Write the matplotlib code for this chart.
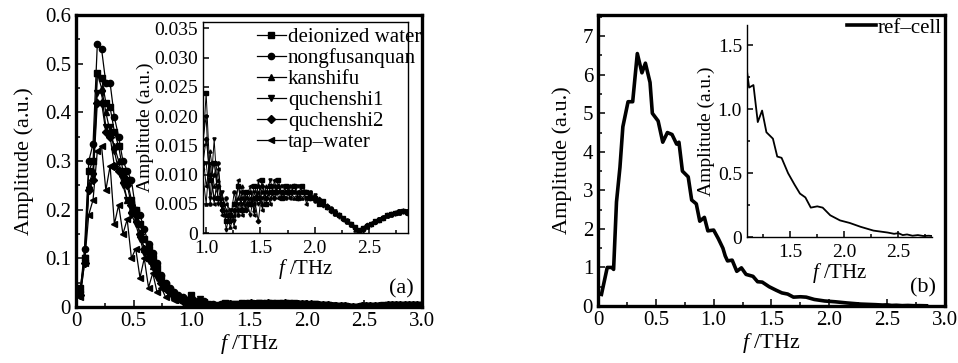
import numpy as np
import matplotlib
matplotlib.use("Agg")
import matplotlib.pyplot as plt
from matplotlib.ticker import MultipleLocator, FuncFormatter

plt.rcParams['font.family'] = ['Liberation Serif', 'DejaVu Serif']
plt.rcParams['mathtext.fontset'] = 'custom'
plt.rcParams['mathtext.it'] = 'Liberation Serif:italic'
plt.rcParams['mathtext.rm'] = 'Liberation Serif'

# frequency bins of the spectra, 0.037 THz apart (0.037 ... 3.0 THz)
freq = np.arange(1, 82) * 0.037

# amplitude below 1 THz (26 bins)
head_deionized = [0.04, 0.10, 0.28, 0.30, 0.48, 0.47, 0.42, 0.41, 0.36, 0.33, 0.28, 0.26, 0.22,
                  0.20, 0.17, 0.14, 0.12, 0.10, 0.08, 0.06, 0.045, 0.035, 0.025, 0.02, 0.016, 0.012]
head_nongfu = [0.03, 0.12, 0.30, 0.335, 0.54, 0.53, 0.46, 0.46, 0.39, 0.35, 0.30, 0.28, 0.26,
               0.20, 0.19, 0.16, 0.13, 0.11, 0.09, 0.065, 0.05, 0.04, 0.03, 0.025, 0.02, 0.015]
head_kanshifu = [0.03, 0.10, 0.25, 0.28, 0.48, 0.45, 0.40, 0.36, 0.33, 0.30, 0.26, 0.22, 0.20,
                 0.18, 0.15, 0.12, 0.10, 0.085, 0.07, 0.055, 0.04, 0.03, 0.022, 0.018, 0.014, 0.011]
head_q1 = [0.03, 0.10, 0.24, 0.27, 0.44, 0.44, 0.37, 0.37, 0.32, 0.28, 0.25, 0.22, 0.19,
           0.17, 0.14, 0.11, 0.095, 0.08, 0.06, 0.05, 0.035, 0.03, 0.02, 0.016, 0.013, 0.011]
head_q2 = [0.025, 0.09, 0.24, 0.26, 0.42, 0.42, 0.36, 0.35, 0.29, 0.28, 0.27, 0.25, 0.21,
           0.19, 0.15, 0.12, 0.11, 0.09, 0.07, 0.05, 0.04, 0.03, 0.022, 0.017, 0.013, 0.011]
head_tap = [0.02, 0.09, 0.19, 0.22, 0.32, 0.33, 0.24, 0.29, 0.17, 0.21, 0.15, 0.18, 0.10,
            0.12, 0.06, 0.10, 0.04, 0.07, 0.03, 0.04, 0.02, 0.03, 0.015, 0.02, 0.01, 0.015]

# amplitude from 1 THz up (55 bins), in units of 1e-3
tail_deionized = [24, 9, 12, 6, 5, 2, 3, 5, 8, 4, 7, 5, 8, 6, 9, 5, 8, 7, 9, 6,
                  8, 7, 8, 6, 8, 7, 6, 6, 5, 5.5, 4.5, 4, 3.5, 3, 2.5, 2, 1.5, 1, 0.5, 0.8,
                  1.2, 1.5, 2, 2.3, 2.6, 3, 3.2, 3.5, 3.6, 3.8, 3.6, 3.4, 3.5, 3.3, 3.4]
tail_nongfu = [20, 5, 10, 12, 4, 6, 2, 7, 3, 6, 4, 7, 5, 8, 7, 6, 7, 8, 7, 7,
               6, 8, 7, 7, 7, 6, 7, 5.5, 5.5, 5, 4.5, 4.2, 3.6, 3, 2.5, 2.2, 1.6, 0.8, 0.4, 0.9,
               1.3, 1.6, 2.1, 2.4, 2.8, 3, 3.3, 3.4, 3.7, 3.8, 3.7, 3.5, 3.4, 3.5, 3.3]
tail_kanshifu = [5, 14, 8, 9, 6, 4, 1, 3, 6, 8, 5, 6, 4, 7, 5, 8, 6, 7, 8, 6,
                 7, 7, 6, 7, 6, 7, 6.5, 6, 5, 5, 4.8, 4, 3.2, 3.2, 2.6, 1.8, 1.4, 0.6, 0.5, 0.7,
                 1.1, 1.5, 1.9, 2.2, 2.7, 2.9, 3.1, 3.5, 3.5, 3.9, 3.5, 3.5, 3.3, 3.4, 3.5]
tail_q1 = [12, 6, 16, 5, 7, 0.5, 4, 2, 5, 5, 6, 3, 7, 5, 6, 7, 9, 6, 7, 8,
           7, 6, 7, 8, 7, 6, 6, 6.5, 5, 5.2, 4.2, 4.1, 3.8, 2.8, 2.4, 2, 1.4, 0.7, 0.6, 0.8,
           1.2, 1.4, 2, 2.4, 2.5, 3.1, 3.2, 3.3, 3.8, 3.6, 3.7, 3.4, 3.6, 3.3, 3.4]
tail_q2 = [16, 10, 6, 8, 4, 3, 2, 4, 4, 7, 4, 5, 6, 2, 8, 6, 7, 6, 8, 7,
           7, 7, 8, 6, 7, 7, 6, 6, 5.8, 4.8, 4.6, 3.8, 3.4, 3, 2.4, 2.1, 1.5, 0.9, 0.4, 0.6,
           1.3, 1.6, 1.9, 2.3, 2.6, 3, 3.3, 3.4, 3.6, 3.8, 3.5, 3.4, 3.5, 3.3, 3.5]
tail_tap = [8, 12, 5, 11, 3, 5, 4, 1, 9, 3, 6, 8, 3, 9, 4, 7, 5, 9, 6, 7,
            8, 6, 7, 7, 8, 5, 7, 6, 5.2, 5.3, 4.4, 3.9, 3.5, 3.1, 2.2, 2, 1.6, 1, 0.6, 1,
            1.1, 1.7, 2.1, 2.2, 2.7, 2.9, 3.3, 3.6, 3.4, 3.7, 3.6, 3.5, 3.4, 3.3, 3.4]

labels = ['deionized water', 'nongfusanquan', 'kanshifu', 'quchenshi1', 'quchenshi2', 'tap–water']
markers = ['s', 'o', '^', 'v', 'D', '<']
heads = [head_deionized, head_nongfu, head_kanshifu, head_q1, head_q2, head_tap]
tails = [tail_deionized, tail_nongfu, tail_kanshifu, tail_q1, tail_q2, tail_tap]

# reference cell spectrum
ref_f = [0.03, 0.08, 0.12, 0.135, 0.16, 0.19, 0.215, 0.26, 0.30, 0.34, 0.38, 0.41, 0.45, 0.47,
         0.52, 0.56, 0.60, 0.64, 0.68, 0.70, 0.73, 0.78, 0.81, 0.85, 0.88, 0.92, 0.95, 1.0,
         1.04, 1.08, 1.10, 1.12, 1.16, 1.20, 1.24, 1.28, 1.34, 1.38, 1.42, 1.48, 1.54, 1.59,
         1.64, 1.69, 1.75, 1.80, 1.87, 1.96, 2.05, 2.15, 2.27, 2.40, 2.46, 2.50, 2.54, 2.58,
         2.63, 2.68, 2.73, 2.78, 2.84]
ref_amp = [0.3, 1.0, 1.0, 0.95, 2.7, 3.6, 4.65, 5.3, 5.3, 6.55, 6.05, 6.3, 5.8, 5.0,
           4.8, 4.25, 4.5, 4.45, 4.2, 4.25, 3.5, 3.35, 2.75, 2.65, 2.2, 2.3, 1.95, 1.97,
           1.75, 1.5, 1.3, 1.17, 1.19, 0.9, 0.99, 0.82, 0.77, 0.63, 0.62, 0.5, 0.41, 0.34,
           0.31, 0.23, 0.24, 0.23, 0.17, 0.13, 0.11, 0.08, 0.05, 0.035, 0.025, 0.03, 0.015, 0.02,
           0.01, 0.015, 0.008, 0.01, 0.006]

xlab = r'$f$ /THz'
ylab = 'Amplitude (a.u.)'


def zero_fmt(fmt):
    return FuncFormatter(lambda v, p: '0' if abs(v) < 1e-9 else fmt % v)


def style(ax, lw, size, major=5, minor=3):
    for s in ax.spines.values():
        s.set_linewidth(lw)
    ax.tick_params(which='both', direction='in', top=False, right=False,
                   labelsize=size, width=1.1)
    ax.tick_params(which='major', length=major)
    ax.tick_params(which='minor', length=minor)


fig = plt.figure(figsize=(9.58, 3.63), dpi=100)

# ---- (a) water samples ----
ax1 = fig.add_axes([0.0793, 0.1543, 0.3612, 0.8044])
lines = []
for lab, mk, h, t in zip(labels, markers, heads, tails):
    amp = np.concatenate([h, np.array(t) / 1000.0])
    ln, = ax1.plot(freq, amp, color='black', lw=0.9, marker=mk, ms=4.5, label=lab)
    lines.append(ln)
ax1.set_xlim(0, 3.0)
ax1.set_ylim(0, 0.6)
ax1.xaxis.set_major_locator(MultipleLocator(0.5))
ax1.xaxis.set_minor_locator(MultipleLocator(0.25))
ax1.yaxis.set_major_locator(MultipleLocator(0.1))
ax1.yaxis.set_minor_locator(MultipleLocator(0.05))
ax1.xaxis.set_major_formatter(zero_fmt('%.1f'))
ax1.yaxis.set_major_formatter(zero_fmt('%.1f'))
style(ax1, 2.4, 15)
ax1.set_xlabel(xlab, fontsize=16, labelpad=1)
ax1.set_ylabel(ylab, fontsize=16, labelpad=8)
ax1.text(0.975, 0.03, '(a)', transform=ax1.transAxes, ha='right', va='bottom', fontsize=16)

ins1 = fig.add_axes([0.2119, 0.3581, 0.214, 0.5813])
for mk, h, t in zip(markers, heads, tails):
    amp = np.concatenate([h, np.array(t) / 1000.0])
    ins1.plot(freq, amp, color='black', lw=0.7, marker=mk, ms=2.3)
ins1.set_xlim(0.97, 2.86)
ins1.set_ylim(0, 0.0361)
ins1.xaxis.set_major_locator(MultipleLocator(0.5))
ins1.xaxis.set_minor_locator(MultipleLocator(0.25))
ins1.yaxis.set_major_locator(MultipleLocator(0.005))
ins1.xaxis.set_major_formatter(zero_fmt('%.1f'))
ins1.yaxis.set_major_formatter(zero_fmt('%.3f'))
style(ins1, 1.0, 14, major=4, minor=2)
ins1.tick_params(axis='x', pad=5)
ins1.set_xlabel(xlab, fontsize=15, labelpad=0)
ins1.set_ylabel(ylab, fontsize=14, labelpad=0)

fig.legend(handles=lines, loc='upper left', bbox_to_anchor=(0.268, 0.925),
           frameon=False, fontsize=15, handlelength=1.4, handletextpad=0.1,
           labelspacing=0.07, borderaxespad=0, borderpad=0)

# ---- (b) reference cell ----
ax2 = fig.add_axes([0.6242, 0.157, 0.3622, 0.8017])
ax2.plot(ref_f, ref_amp, color='black', lw=2.6, label='ref–cell')
ax2.set_xlim(0, 3.0)
ax2.set_ylim(0, 7.55)
ax2.xaxis.set_major_locator(MultipleLocator(0.5))
ax2.xaxis.set_minor_locator(MultipleLocator(0.25))
ax2.yaxis.set_major_locator(MultipleLocator(1))
ax2.yaxis.set_minor_locator(MultipleLocator(0.5))
ax2.xaxis.set_major_formatter(zero_fmt('%.1f'))
ax2.yaxis.set_major_formatter(zero_fmt('%d'))
style(ax2, 2.4, 15)
ax2.set_xlabel(xlab, fontsize=16, labelpad=1)
ax2.set_ylabel(ylab, fontsize=16, labelpad=8)
ax2.text(0.975, 0.03, '(b)', transform=ax2.transAxes, ha='right', va='bottom', fontsize=16)
ax2.legend(loc='upper right', frameon=False, fontsize=15, handlelength=1.4,
           handletextpad=0.1, borderaxespad=0.15, borderpad=0)

ins2 = fig.add_axes([0.7797, 0.3471, 0.1931, 0.584])
ins2.plot(ref_f, ref_amp, color='black', lw=1.3)
ins2.set_xlim(1.10, 2.81)
ins2.set_ylim(0, 1.66)
ins2.spines['top'].set_visible(False)
ins2.spines['right'].set_visible(False)
ins2.patch.set_alpha(0)
ins2.xaxis.set_major_locator(MultipleLocator(0.5))
ins2.xaxis.set_minor_locator(MultipleLocator(0.25))
ins2.yaxis.set_major_locator(MultipleLocator(0.5))
ins2.yaxis.set_minor_locator(MultipleLocator(0.25))
ins2.xaxis.set_major_formatter(zero_fmt('%.1f'))
ins2.yaxis.set_major_formatter(zero_fmt('%.1f'))
style(ins2, 1.0, 14, major=4, minor=2)
ins2.tick_params(axis='x', pad=5)
ins2.set_xlabel(xlab, fontsize=15, labelpad=0)
ins2.set_ylabel(ylab, fontsize=14, labelpad=2)

fig.savefig('out.png', dpi=100)
